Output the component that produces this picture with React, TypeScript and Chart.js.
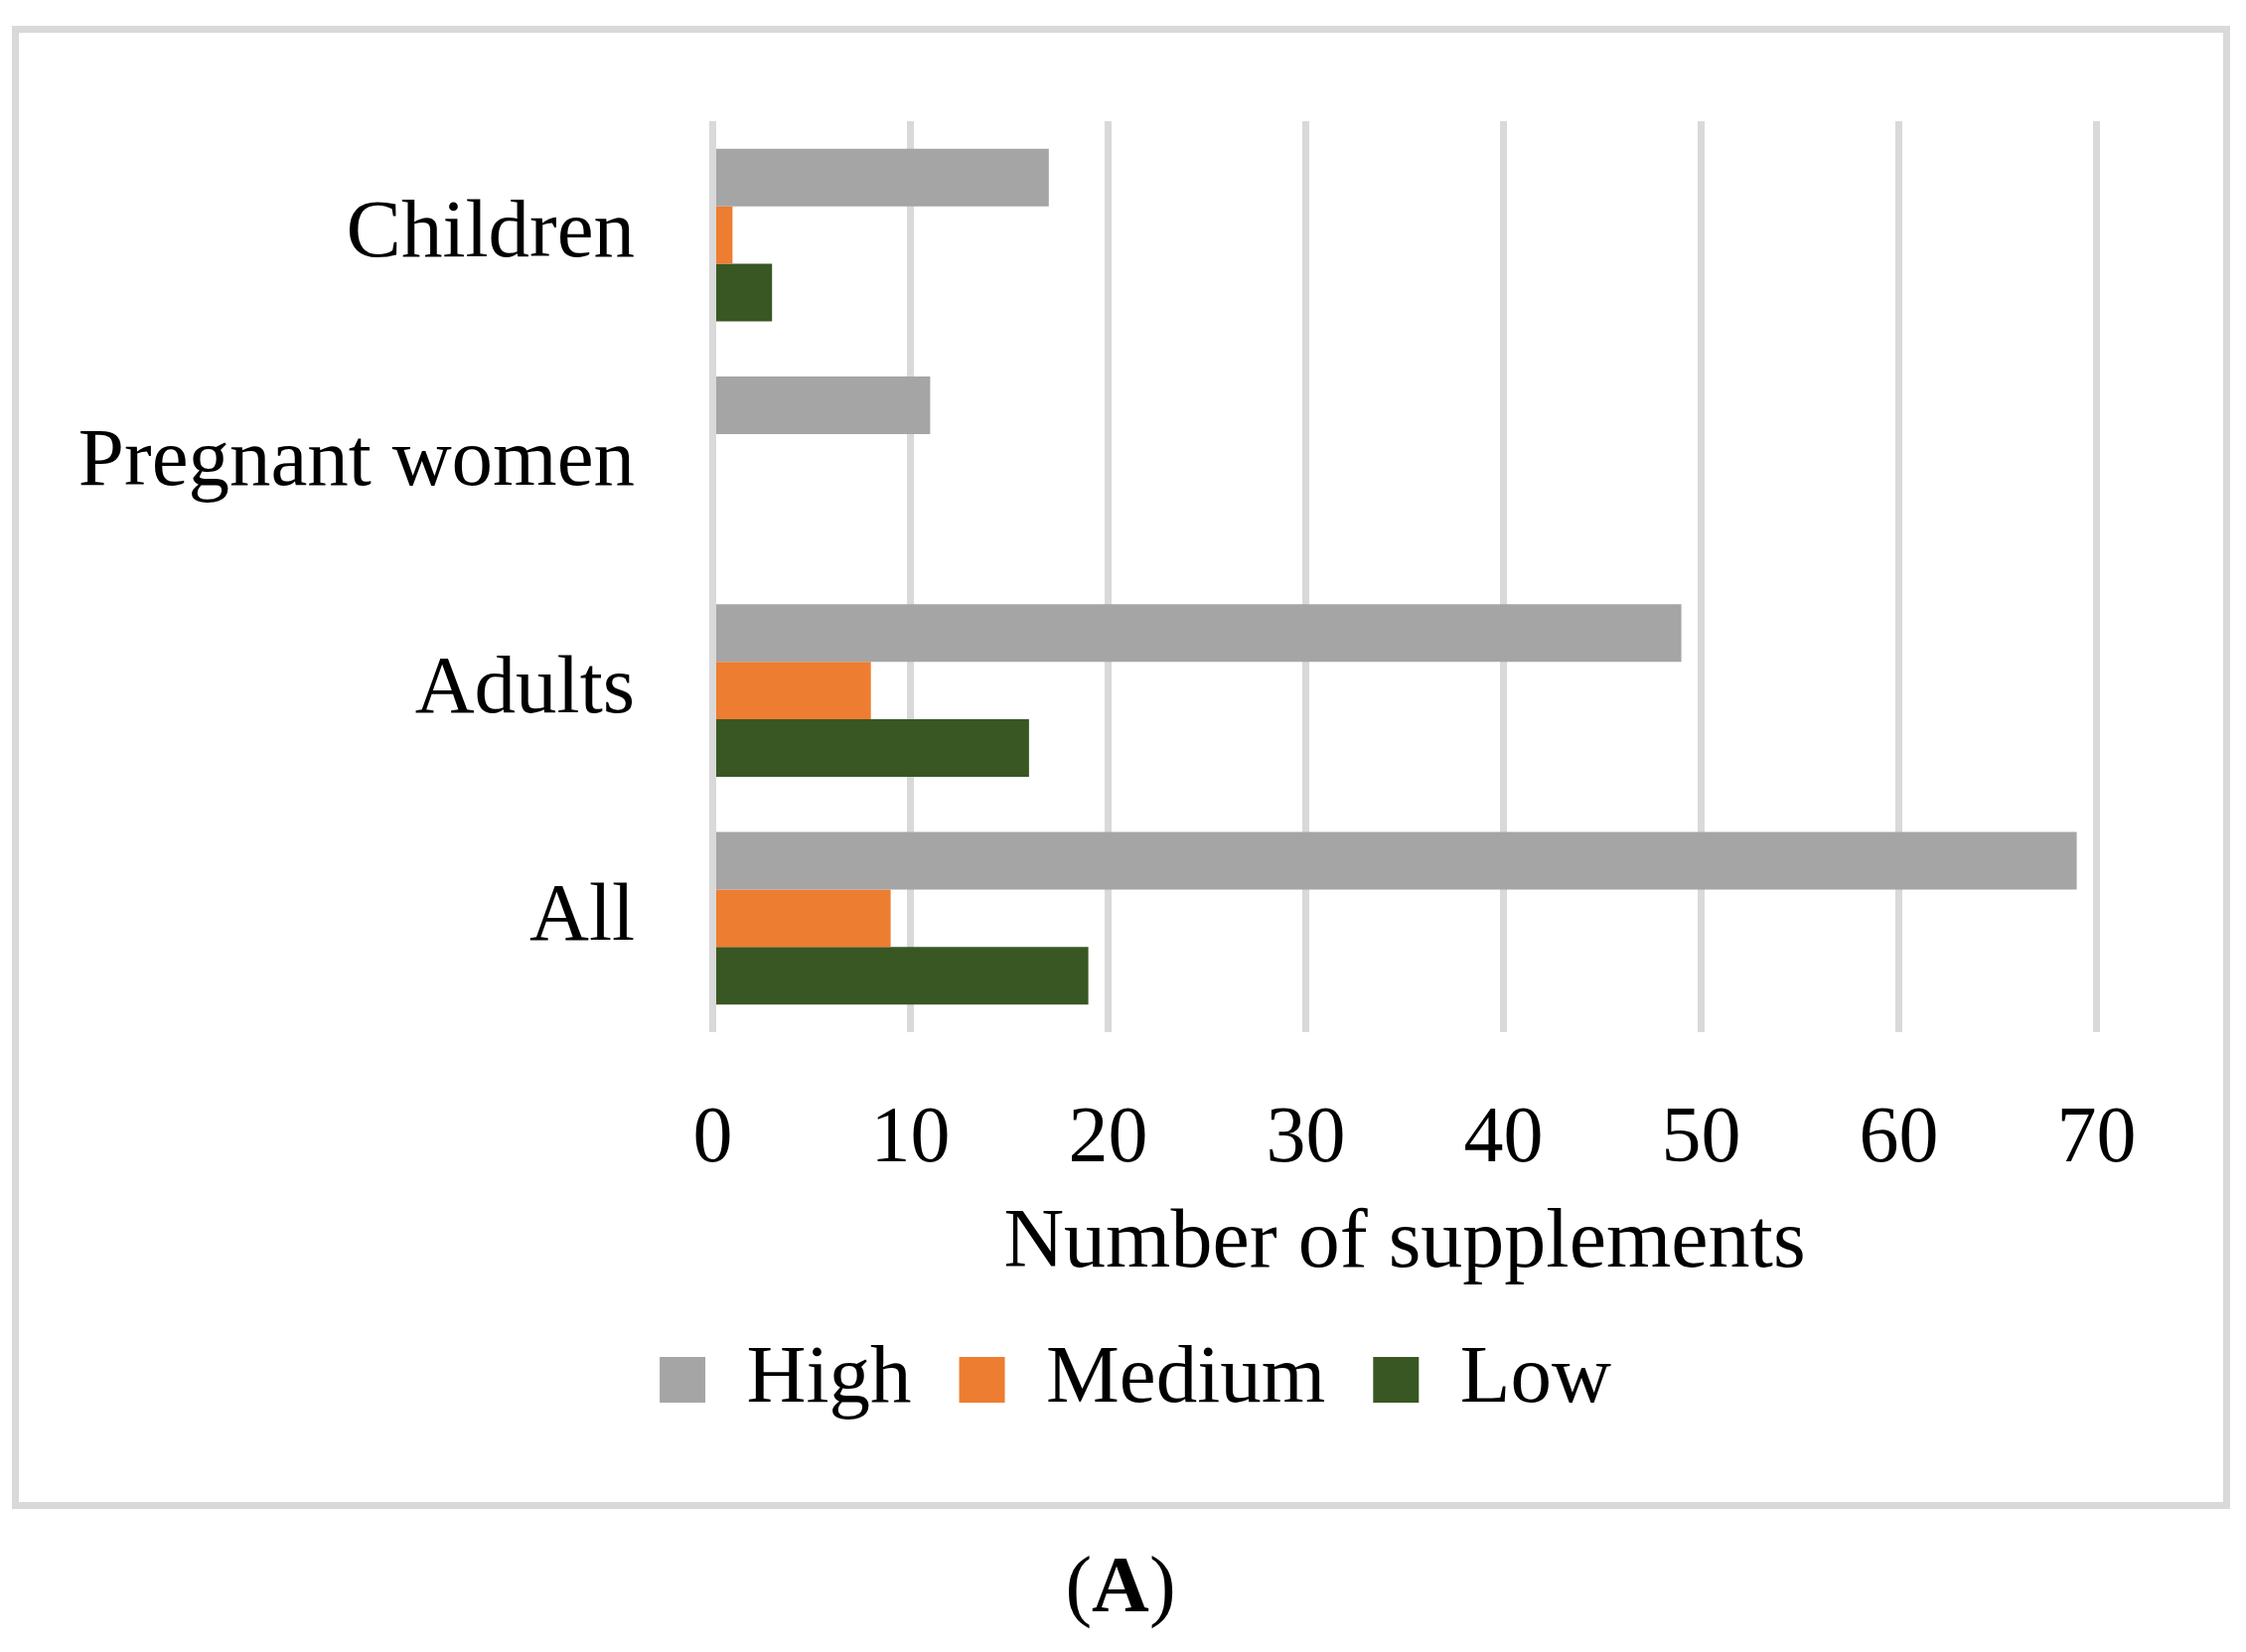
import React, { useEffect, useRef } from "react";
import { Chart, registerables } from "chart.js";

Chart.register(...registerables);

const categories = ["Children", "Pregnant women", "Adults", "All"];
const seriesNames = ["High", "Medium", "Low"];
const highValues = [17, 11, 49, 69];
const mediumValues = [1, 0, 8, 9];
const lowValues = [3, 0, 16, 19];
const seriesColors = ["#a5a5a5", "#ed7d31", "#385723"];
const xTickMin = 0;
const xTickMax = 70;
const xTickStep = 10;
const axisTitle = "Number of supplements";
const caption = "A";

const FONT = "'Liberation Serif', 'Times New Roman', serif";

// keeps the legend centred under the whole figure rather than the full canvas
const legendCentre = {
  id: "legendCentre",
  afterLayout(chart: any) {
    if (chart.legend) {
      chart.legend.left = 175.5;
    }
  },
};

export default function App() {
  const canvasRef = useRef<HTMLCanvasElement | null>(null);

  useEffect(() => {
    const canvas = canvasRef.current;
    if (!canvas) return;
    const chart = new Chart(canvas, {
      type: "bar",
      data: {
        labels: categories,
        datasets: [highValues, mediumValues, lowValues].map((vals, i) => ({
          label: seriesNames[i],
          data: vals,
          backgroundColor: seriesColors[i],
          borderWidth: 0,
          categoryPercentage: 0.757,
          barPercentage: 1.0,
        })),
      },
      plugins: [legendCentre],
      options: {
        indexAxis: "y",
        responsive: false,
        animation: false,
        devicePixelRatio: 1,
        layout: {
          padding: { top: 122, left: 0, right: 150.5, bottom: 222.5 },
        },
        plugins: {
          tooltip: { enabled: false },
          legend: {
            display: true,
            position: "bottom",
            labels: {
              boxWidth: 46,
              boxHeight: 46,
              padding: 48,
              color: "#000",
              font: { family: FONT, size: 83 },
            },
          },
        },
        scales: {
          x: {
            type: "linear",
            min: xTickMin,
            max: xTickMax,
            ticks: {
              stepSize: xTickStep,
              color: "#000",
              padding: 61,
              font: { family: FONT, size: 80 },
            },
            grid: {
              color: "#d9d9d9",
              lineWidth: 7,
              drawTicks: false,
            },
            border: { display: false },
            title: {
              display: true,
              text: axisTitle,
              color: "#000",
              padding: { top: 0, bottom: -4 },
              font: { family: FONT, size: 84 },
            },
            afterFit: (scale: any) => {
              scale.height = 260.5;
            },
          },
          y: {
            type: "category",
            ticks: {
              color: "#000",
              padding: 78.5,
              font: { family: FONT, size: 83 },
            },
            grid: { display: false, drawTicks: false },
            border: { display: false },
            afterFit: (scale: any) => {
              scale.width = 717.5;
              scale.paddingTop = 0;
              scale.paddingBottom = 0;
            },
          },
        },
      },
    });
    return () => chart.destroy();
  }, []);

  return (
    <div
      style={{
        position: "absolute",
        left: 0,
        top: 0,
        width: 2261,
        height: 1663,
        background: "#fff",
        overflow: "hidden",
      }}
    >
      <div
        style={{
          position: "absolute",
          left: 12,
          top: 26,
          width: 2233,
          height: 1493,
          border: "7.5px solid #d9d9d9",
          boxSizing: "border-box",
        }}
      />
      <canvas
        ref={canvasRef}
        width={2261}
        height={1663}
        style={{ position: "absolute", left: 0, top: 0, width: 2261, height: 1663 }}
      />
      <div
        style={{
          position: "absolute",
          left: 0,
          width: 2256,
          top: 1555,
          textAlign: "center",
          fontFamily: FONT,
          fontSize: 80,
          lineHeight: 1,
          color: "#000",
        }}
      >
        (<b>{caption}</b>)
      </div>
    </div>
  );
}
